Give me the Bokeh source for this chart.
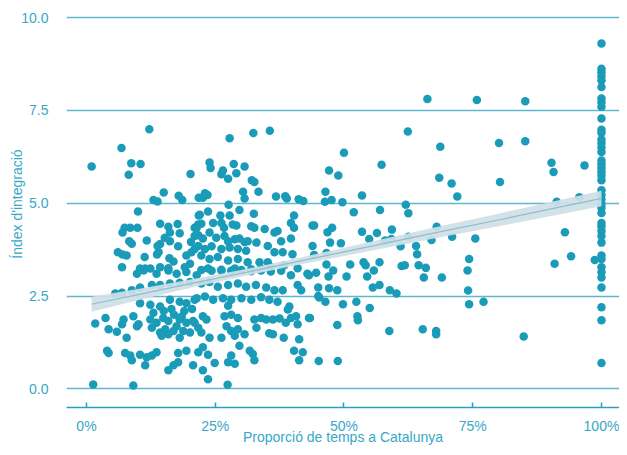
from bokeh.plotting import figure
from bokeh.models import FixedTicker, Range1d
from bokeh.embed import file_html
from bokeh.resources import INLINE

# ---------------- data ----------------
# x: proportion of time in Catalonia (%), y: integration index
sparse_x = [6.8, 12.2, 27.8, 32.4, 35.6, 50.0, 62.4, 66.2, 68.7, 75.8, 80.1, 85.2, 85.2, 80.3,
            90.3, 90.7, 96.7, 91.3, 95.7, 92.9, 94.1, 90.9, 98.7, 84.9]
sparse_y = [6.49, 6.99, 6.75, 6.89, 6.95, 6.36, 6.93, 7.81, 6.52, 7.78, 6.62, 7.75, 6.67, 5.57,
            6.09, 5.84, 6.02, 5.04, 5.16, 4.22, 3.57, 3.37, 3.47, 1.41]

full_y = [9.30, 8.62, 8.53, 8.42, 8.31, 8.13, 7.82, 7.72, 7.60, 7.28, 6.98, 6.90, 6.72, 6.62,
          6.50, 6.38, 6.15, 6.05, 5.95, 5.85, 5.75, 5.62, 5.35, 5.22, 5.10, 4.98, 4.88, 4.74,
          4.47, 4.38, 4.25, 4.12, 3.94, 3.59, 3.50, 3.28, 3.15, 3.00, 2.73, 2.20, 1.85, 0.70]
full_x = [100.0] * len(full_y)

mid_x = [57.3, 47.1, 48.9, 68.5, 70.9, 72.0, 46.4, 53.5, 46.3, 47.6, 49.7, 62.0, 51.9, 57.0,
         62.5, 44.2, 46.8, 47.7, 53.5, 56.4, 59.3, 68.0, 54.9, 58.0, 59.2, 47.3, 49.4, 62.5,
         67.0, 71.0, 75.5, 61.0, 64.0, 44.2, 46.6, 64.2, 74.3, 46.6, 51.2, 53.8, 54.2, 56.9,
         61.2, 61.8, 64.5, 65.9, 74.0, 47.9, 55.8, 43.2, 44.6, 47.0, 50.5, 54.5, 65.5, 69.0,
         45.0, 47.1, 48.7, 55.6, 56.9, 58.9, 60.2, 74.1, 45.0, 45.2, 46.4, 49.8, 52.4, 55.0,
         74.3, 77.1, 43.4, 52.6, 52.7, 48.7, 58.8, 65.3, 67.9, 67.9, 45.1, 48.8]
mid_y = [6.04, 5.88, 5.75, 5.69, 5.53, 5.18, 5.31, 5.21, 5.04, 5.09, 5.03, 4.96, 4.76, 4.82,
         4.73, 4.40, 4.22, 4.34, 4.23, 4.20, 4.29, 4.37, 4.04, 4.00, 4.04, 3.94, 3.92, 4.10,
         4.01, 4.10, 4.05, 3.84, 3.85, 3.61, 3.66, 3.63, 3.50, 3.35, 3.35, 3.41, 3.33, 3.41,
         3.31, 3.33, 3.33, 3.26, 3.19, 3.19, 3.19, 3.06, 3.13, 3.03, 3.03, 3.03, 3.00, 3.00,
         2.73, 2.71, 2.66, 2.73, 2.80, 2.66, 2.57, 2.65, 2.50, 2.46, 2.35, 2.28, 2.35, 2.18,
         2.28, 2.35, 1.91, 1.96, 1.85, 1.72, 1.56, 1.61, 1.56, 1.47, 0.75, 0.75]

upleft_x = [1.0, 8.7, 10.5, 8.2, 20.2, 15.0, 13.0, 13.8, 17.9, 18.6, 21.8, 10.0, 14.3, 17.7,
            21.8, 7.4, 8.5, 9.9, 7.0, 15.9, 16.2, 18.1, 21.0, 21.7, 11.7, 8.3, 8.8, 15.2, 16.2,
            14.3, 13.8, 20.3, 17.8, 21.0, 6.1, 7.0, 7.8, 11.3, 14.0, 13.7, 16.1, 16.9, 19.4,
            20.4, 21.0, 20.1, 19.1, 6.9, 10.4, 11.4, 12.4, 14.3, 15.9]
upleft_y = [5.99, 6.08, 6.06, 5.77, 5.79, 5.29, 5.09, 5.05, 5.20, 5.09, 5.15, 4.78, 4.45, 4.44,
            4.67, 4.34, 4.34, 4.34, 4.21, 4.37, 4.21, 4.19, 4.34, 4.43, 4.00, 3.98, 3.91, 4.07,
            3.98, 3.90, 3.85, 3.96, 3.84, 4.12, 3.68, 3.62, 3.59, 3.55, 3.68, 3.62, 3.52, 3.43,
            3.59, 3.68, 3.77, 3.37, 3.28, 3.28, 3.24, 3.24, 3.24, 3.28, 3.25]

upmid_x = [23.9, 24.1, 26.5, 26.2, 27.5, 28.6, 29.1, 30.7, 32.1, 32.6, 23.0, 23.5, 22.6, 30.4,
           30.7, 33.4, 36.8, 38.6, 38.9, 41.2, 42.1, 27.6, 22.0, 23.6, 26.0, 27.8, 29.7, 32.5,
           40.3, 22.3, 24.6, 21.4, 26.2, 26.7, 28.4, 29.1, 32.0, 32.6, 34.6, 36.5, 37.1, 39.7,
           40.3, 43.9, 23.9, 21.7, 22.6, 25.2, 26.8, 27.5, 28.8, 29.7, 30.7, 31.3, 33.0, 37.8,
           39.7, 21.7, 23.0, 24.3, 26.2, 27.8, 29.4, 31.0, 35.2, 36.5, 38.1, 40.0, 43.9, 22.3,
           23.9, 25.5, 27.5, 29.4, 31.3, 33.6, 35.2, 35.8, 38.4, 41.0, 23.6, 26.2, 28.8, 32.0,
           33.9]
upmid_y = [6.10, 5.95, 5.88, 5.78, 5.66, 6.06, 5.81, 5.99, 5.62, 5.57, 5.27, 5.22, 5.15, 5.31,
           5.13, 5.31, 5.18, 5.19, 5.13, 5.11, 5.06, 4.96, 4.69, 4.78, 4.67, 4.67, 4.82, 4.72,
           4.67, 4.45, 4.47, 4.34, 4.47, 4.34, 4.43, 4.40, 4.38, 4.34, 4.31, 4.21, 4.25, 4.47,
           4.34, 4.40, 4.21, 4.14, 4.05, 4.07, 4.12, 3.98, 4.03, 4.05, 3.96, 3.98, 3.94, 3.98,
           4.05, 3.85, 3.77, 3.84, 3.77, 3.81, 3.77, 3.72, 3.85, 3.68, 3.68, 3.63, 3.85, 3.59,
           3.50, 3.55, 3.46, 3.50, 3.41, 3.41, 3.41, 3.28, 3.33, 3.25, 3.24, 3.19, 3.24, 3.22,
           3.24]

lowleft_x = [9.8, 11.1, 13.6, 15.9, 17.5, 19.4, 21.4, 5.6, 6.9, 8.8, 10.4, 12.7, 14.3, 16.2,
             18.1, 20.1, 10.4, 12.4, 14.3, 16.2, 18.1, 19.4, 21.0, 9.1, 7.2, 3.7, 1.7, 4.3, 5.9,
             6.9, 9.8, 10.1, 12.4, 13.6, 14.9, 15.9, 12.7, 14.3, 15.3, 16.9, 18.1, 19.4, 20.7,
             17.5, 18.8, 20.1, 7.8, 4.0, 4.3, 7.5, 8.5, 8.8, 10.4, 11.7, 12.7, 13.6, 11.4, 15.9,
             16.9, 17.8, 17.8, 19.4, 20.7, 1.3, 9.1, 14.6, 15.9, 18.1, 13.0, 15.0, 17.0, 19.0,
             20.5, 16.5, 18.5]
lowleft_y = [3.10, 3.19, 3.10, 3.19, 3.10, 3.15, 3.06, 2.57, 2.59, 2.66, 2.73, 2.80, 2.80, 2.84,
             2.86, 2.88, 2.31, 2.27, 2.22, 2.40, 2.35, 2.31, 2.40, 1.96, 1.87, 1.91, 1.76, 1.61,
             1.54, 1.74, 1.69, 1.74, 1.87, 1.78, 1.91, 1.83, 1.65, 1.52, 1.61, 1.56, 1.87, 1.78,
             1.83, 1.69, 1.56, 1.52, 1.38, 1.03, 0.97, 0.97, 0.90, 0.77, 0.92, 0.85, 0.90, 0.99,
             0.64, 0.50, 0.64, 0.72, 0.97, 1.03, 0.64, 0.12, 0.09, 1.43, 1.47, 1.38, 2.05, 2.10,
             2.00, 2.10, 2.15, 2.15, 1.95]

lowmid_x = [22.3, 24.3, 26.2, 28.1, 30.1, 32.0, 33.9, 35.8, 37.8, 39.7, 42.9,
            22.3, 23.9, 25.5, 27.5, 29.4, 31.0, 32.9, 34.9, 36.5, 38.1, 41.0, 41.7,
            21.4, 23.0, 24.6, 26.5, 28.1, 30.1, 32.0, 33.9, 35.5, 37.1, 27.5, 39.4, 39.1,
            22.6, 23.3, 26.8, 28.1, 29.4, 32.6, 33.9, 34.9, 36.2, 37.5, 38.7, 39.7, 40.7, 43.2,
            21.0, 21.7, 22.3, 27.2, 28.1, 29.4, 30.7, 28.8, 33.0, 35.5, 36.2, 41.0, 23.9, 26.2,
            38.3, 41.3, 29.7, 22.6, 23.6, 21.7, 28.1, 27.5, 28.8, 31.7, 32.3, 32.6, 40.3, 42.0,
            41.3, 24.9, 22.6, 23.6, 27.4]
lowmid_y = [3.20, 3.18, 3.21, 3.18, 3.20, 3.17, 3.19, 3.16, 3.18, 3.06, 3.10,
            2.84, 2.88, 2.75, 2.80, 2.84, 2.75, 2.80, 2.73, 2.66, 2.66, 2.80, 2.66,
            2.44, 2.49, 2.40, 2.44, 2.40, 2.44, 2.40, 2.47, 2.40, 2.35, 2.24, 2.22, 2.14,
            1.96, 1.87, 1.96, 2.00, 1.91, 1.87, 1.91, 1.87, 1.87, 1.90, 1.78, 1.91, 1.96, 1.91,
            1.78, 1.65, 1.52, 1.69, 1.56, 1.61, 1.47, 1.43, 1.65, 1.50, 1.47, 1.74, 1.38, 1.38,
            1.38, 1.34, 1.16, 1.12, 0.92, 0.99, 0.90, 0.72, 0.68, 1.03, 0.94, 0.77, 1.03, 0.99,
            0.77, 0.70, 0.50, 0.26, 0.11]

# linear fit with confidence band
fit_x = [1, 10, 20, 30, 40, 50, 60, 70, 80, 90, 100]
fit_mid = [2.28, 2.54, 2.83, 3.11, 3.40, 3.69, 3.98, 4.27, 4.55, 4.84, 5.13]
fit_lo = [2.08, 2.39, 2.72, 3.02, 3.31, 3.58, 3.85, 4.12, 4.38, 4.65, 4.92]
fit_hi = [2.48, 2.69, 2.94, 3.20, 3.49, 3.80, 4.11, 4.42, 4.72, 5.03, 5.34]

x_ticks = [0, 25, 50, 75, 100]
x_tick_labels = ["0%", "25%", "50%", "75%", "100%"]
y_ticks = [0, 2.5, 5, 7.5, 10]
y_tick_labels = ["0.0", "2.5", "5.0", "7.5", "10.0"]

x_title = "Proporció de temps a Catalunya"
y_title = "Índex d'integració"

# ---------------- plot ----------------
all_x = sparse_x + full_x + mid_x + upleft_x + upmid_x + lowleft_x + lowmid_x
all_y = sparse_y + full_y + mid_y + upleft_y + upmid_y + lowleft_y + lowmid_y

TEAL = "#1a9cb9"
TEXT = "#38a8c8"
GRID = "#5db7cd"
FONT = "Liberation Sans"

p = figure(width=619, height=447, output_backend="svg", toolbar_location=None,
           x_range=Range1d(-3.88, 103.5), y_range=Range1d(-0.5, 10.46),
           min_border_left=66, min_border_right=0, min_border_top=0, min_border_bottom=40)
p.outline_line_color = None
p.background_fill_color = "white"
p.border_fill_color = "white"

p.scatter(all_x, all_y, size=8.5, fill_color=TEAL, line_color=None)

p.varea(x=fit_x, y1=fit_lo, y2=fit_hi, fill_color="#cfe0e7", fill_alpha=0.92)
p.line(fit_x, fit_mid, line_color="#8fbdcc", line_width=1.2)

# grid
p.xgrid.visible = False
p.yaxis.ticker = FixedTicker(ticks=y_ticks)
p.xaxis.ticker = FixedTicker(ticks=x_ticks)
p.ygrid.grid_line_color = GRID
p.ygrid.grid_line_width = 1.3

# x axis
p.xaxis.axis_line_color = "#2b9fc0"
p.xaxis.axis_line_width = 1.5
p.xaxis.major_tick_line_color = "#2b9fc0"
p.xaxis.major_tick_line_width = 1.5
p.xaxis.major_tick_in = 5
p.xaxis.major_tick_out = 0
p.xaxis.minor_tick_line_color = None
p.xaxis.major_label_overrides = {t: l for t, l in zip(x_ticks, x_tick_labels)}
p.xaxis.major_label_standoff = 10
p.xaxis.axis_label = x_title
p.xaxis.axis_label_standoff = -8

# y axis
p.yaxis.axis_line_color = None
p.yaxis.major_tick_line_color = None
p.yaxis.minor_tick_line_color = None
p.yaxis.major_label_overrides = {t: l for t, l in zip(y_ticks, y_tick_labels)}
p.yaxis.major_label_standoff = 12
p.yaxis.axis_label = y_title
p.yaxis.axis_label_standoff = -7

for ax in (p.xaxis[0], p.yaxis[0]):
    ax.major_label_text_font = FONT
    ax.major_label_text_font_size = "14px"
    ax.major_label_text_color = TEXT
    ax.axis_label_text_font = FONT
    ax.axis_label_text_font_size = "14px"
    ax.axis_label_text_font_style = "normal"
    ax.axis_label_text_color = TEXT

open("out.html", "w").write(file_html(p, INLINE))
